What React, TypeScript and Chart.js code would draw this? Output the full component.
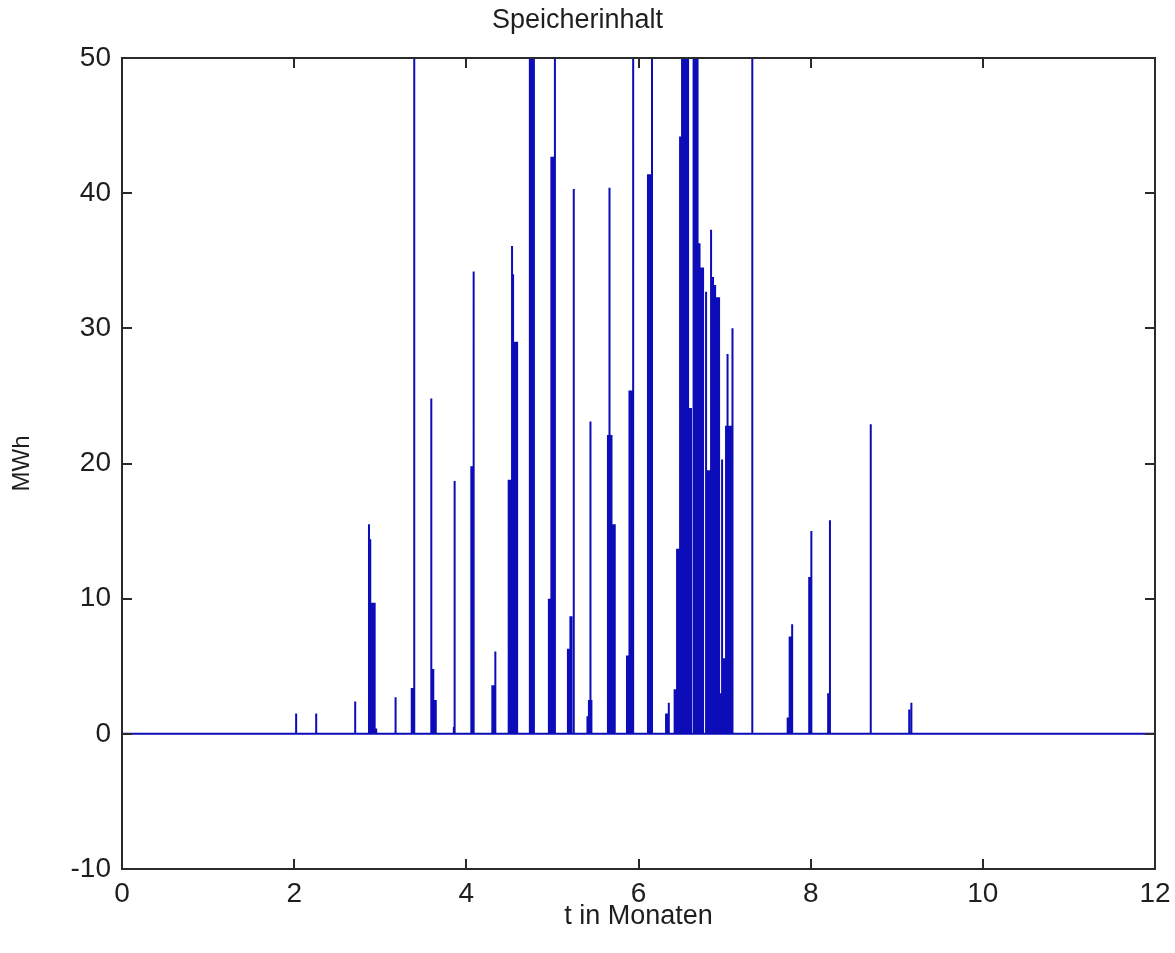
import React, { useEffect, useRef } from 'react';
import { Chart, registerables } from 'chart.js';

Chart.register(...registerables);

// ---- data ----
const chartTitle = 'Speicherinhalt';
const xAxisLabel = 't in Monaten';
const yAxisLabel = 'MWh';
const xTickValues = [0, 2, 4, 6, 8, 10, 12];
const yTickValues = [-10, 0, 10, 20, 30, 40, 50];

const seriesStart = 0;
const seriesEnd = 12;

// time (months) of each storage peak
const peakTimes = [
  2.023, 2.256, 2.709,
  2.869, 2.884, 2.901, 2.913, 2.924, 2.935, 2.953,
  3.178,
  3.366, 3.378, 3.395,
  3.593, 3.605, 3.616, 3.634, 3.645,
  3.855, 3.864,
  4.058, 4.070, 4.085,
  4.302, 4.314, 4.337,
  4.492, 4.503, 4.515, 4.531, 4.543, 4.555, 4.566, 4.578, 4.590,
  4.738, 4.750, 4.762, 4.773, 4.785,
  4.959, 4.971, 4.988, 5.000, 5.012, 5.029,
  5.180, 5.192, 5.209, 5.221, 5.248,
  5.407, 5.424, 5.442, 5.453,
  5.645, 5.663, 5.674, 5.686, 5.701, 5.713, 5.724,
  5.866, 5.877, 5.895, 5.907, 5.919, 5.938,
  6.110, 6.122, 6.134, 6.157,
  6.320, 6.337, 6.352,
  6.413, 6.424, 6.436, 6.448, 6.459, 6.471, 6.483, 6.494,
  6.506, 6.517, 6.529, 6.541, 6.552, 6.564, 6.576,
  6.587, 6.599, 6.610,
  6.640, 6.651, 6.663, 6.674, 6.686, 6.698, 6.709, 6.727, 6.738, 6.750,
  6.785, 6.802, 6.814, 6.826,
  6.843, 6.855, 6.866, 6.878, 6.890, 6.901, 6.913, 6.924, 6.936,
  6.953, 6.971, 6.988, 7.000,
  7.017, 7.029, 7.038, 7.052, 7.064, 7.076, 7.087, 7.095,
  7.322,
  7.733, 7.756, 7.767, 7.785,
  7.983, 7.994, 8.008,
  8.203, 8.224,
  8.698,
  9.145, 9.170,
];

// stored energy (MWh) at each peak time
const peakValues = [
  1.5, 1.5, 2.4,
  15.5, 14.4, 9.7, 9.7, 9.7, 9.7, 0.4,
  2.7,
  3.4, 3.4, 60,
  24.8, 4.8, 4.8, 2.5, 2.5,
  0.5, 18.7,
  19.8, 19.8, 34.2,
  3.6, 3.6, 6.1,
  18.8, 18.8, 18.8, 36.1, 34.0, 29.0, 29.0, 29.0, 29.0,
  60, 60, 60, 60, 60,
  10.0, 10.0, 42.7, 42.7, 42.7, 60,
  6.3, 6.3, 8.7, 8.7, 40.3,
  1.3, 2.5, 23.1, 2.5,
  22.1, 40.4, 22.1, 22.1, 15.5, 15.5, 15.5,
  5.8, 5.8, 25.4, 25.4, 25.4, 60,
  41.4, 41.4, 41.4, 60,
  1.5, 1.5, 2.3,
  3.3, 3.3, 3.3, 13.7, 13.7, 13.7, 44.2, 44.2,
  60, 60, 60, 60, 60, 60, 60,
  24.1, 24.1, 24.1,
  60, 60, 60, 60, 60, 36.3, 36.3, 34.5, 34.5, 34.5,
  32.7, 19.5, 19.5, 19.5,
  37.3, 33.8, 33.8, 33.2, 33.2, 32.3, 32.3, 32.3, 32.3,
  3.0, 20.3, 5.6, 5.6,
  22.8, 22.8, 28.1, 22.8, 22.8, 22.8, 22.8, 30.0,
  60,
  1.2, 7.2, 7.2, 8.1,
  11.6, 11.6, 15.0,
  3.0, 15.8,
  22.9,
  1.8, 2.3,
];

const FONT = "'Liberation Sans', Arial, Helvetica, sans-serif";
const TEXT = '#1e1e1e';
const LINE = '#0c0cb8';

const boxPlugin = {
  id: 'matlabBox',
  afterDatasetsDraw(chart: any) {
    const { ctx, chartArea: a, scales } = chart;
    const xs = scales.x;
    const ys = scales.y;
    const L = 10;
    ctx.save();
    ctx.strokeStyle = '#2a2a2a';
    ctx.lineWidth = 2;
    ctx.strokeRect(a.left, a.top, a.right - a.left, a.bottom - a.top);
    ctx.beginPath();
    xs.ticks.forEach((t: any) => {
      const px = Math.round(xs.getPixelForValue(t.value));
      ctx.moveTo(px, a.bottom);
      ctx.lineTo(px, a.bottom - L);
      ctx.moveTo(px, a.top);
      ctx.lineTo(px, a.top + L);
    });
    ys.ticks.forEach((t: any) => {
      const py = Math.round(ys.getPixelForValue(t.value));
      ctx.moveTo(a.left, py);
      ctx.lineTo(a.left + L, py);
      ctx.moveTo(a.right, py);
      ctx.lineTo(a.right - L, py);
    });
    ctx.stroke();
    ctx.restore();
  },
};

export default function App() {
  const ref = useRef<HTMLCanvasElement>(null);

  useEffect(() => {
    if (!ref.current) return;
    const points: { x: number; y: number }[] = [{ x: seriesStart, y: 0 }];
    peakTimes.forEach((t, i) => {
      points.push({ x: t, y: 0 }, { x: t, y: peakValues[i] }, { x: t, y: 0 });
    });
    points.push({ x: seriesEnd, y: 0 });

    const chart = new Chart(ref.current, {
      type: 'line',
      data: {
        datasets: [
          {
            data: points,
            borderColor: LINE,
            borderWidth: 2,
            pointRadius: 0,
            tension: 0,
            fill: false,
            borderJoinStyle: 'bevel',
          },
        ],
      },
      options: {
        responsive: false,
        animation: false,
        devicePixelRatio: 1,
        layout: { padding: { left: 0, right: 20, top: 0, bottom: 0 } },
        plugins: {
          legend: { display: false },
          tooltip: { enabled: false },
          title: {
            display: true,
            text: chartTitle,
            color: TEXT,
            font: { family: FONT, size: 27, weight: 'normal' },
            padding: { top: 4, bottom: 21.6 },
          },
        },
        scales: {
          x: {
            type: 'linear',
            min: 0,
            max: 12,
            afterBuildTicks: (s: any) => {
              s.ticks = xTickValues.map((v) => ({ value: v }));
            },
            afterFit: (s: any) => {
              s.height = 84;
              s.paddingLeft = 0;
              s.paddingRight = 0;
            },
            grid: { display: false, drawTicks: false },
            border: { display: false },
            ticks: {
              color: TEXT,
              font: { family: FONT, size: 28 },
              padding: 8,
              maxRotation: 0,
            },
            title: {
              display: true,
              text: xAxisLabel,
              color: TEXT,
              font: { family: FONT, size: 27 },
              padding: { top: 0, bottom: 20 },
            },
          },
          y: {
            type: 'linear',
            min: -10,
            max: 50,
            afterBuildTicks: (s: any) => {
              s.ticks = yTickValues.map((v) => ({ value: v }));
            },
            afterFit: (s: any) => {
              s.width = 122;
              s.paddingTop = 0;
              s.paddingBottom = 0;
            },
            grid: { display: false, drawTicks: false },
            border: { display: false },
            ticks: {
              color: TEXT,
              font: { family: FONT, size: 28 },
              padding: 11,
            },
            title: {
              display: true,
              text: yAxisLabel,
              color: TEXT,
              font: { family: FONT, size: 24 },
              padding: { top: 8, bottom: 0 },
            },
          },
        },
      },
      plugins: [boxPlugin],
    } as any);

    return () => chart.destroy();
  }, []);

  return (
    <div
      style={{
        position: 'fixed',
        left: 0,
        top: 0,
        width: 1175,
        height: 953,
        background: '#ffffff',
      }}
    >
      <canvas ref={ref} width={1175} height={953} style={{ display: 'block' }} />
    </div>
  );
}
